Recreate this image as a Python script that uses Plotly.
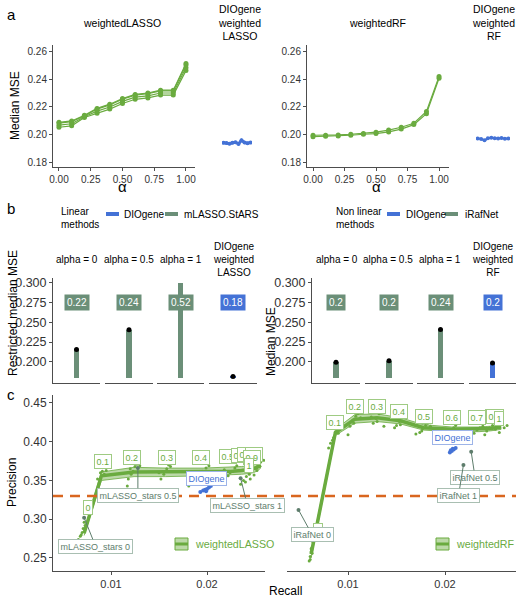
import plotly.graph_objects as go

W, H = 516, 598
FONT = "Liberation Sans"
GREEN = "#6AAB3F"
BAND = "rgba(106,171,63,0.45)"
BAR_GREEN = "#6B8F78"
BLUE = "#4472D6"
STARS = "#5E7D6C"
STARS_BORDER = "#A9BFB2"
ORANGE = "#D9661F"
AXC = "#4d4d4d"
TXT = "#333333"

# ---------------- panel a data ----------------
alpha = [0.0, 0.1, 0.2, 0.3, 0.4, 0.5, 0.6, 0.7, 0.8, 0.9, 1.0]
lasso_run1 = [0.2055, 0.2065, 0.2125, 0.2155, 0.2185, 0.2225, 0.2255, 0.2265, 0.2285, 0.2285, 0.2460]
lasso_run2 = [0.2070, 0.2080, 0.2130, 0.2170, 0.2200, 0.2240, 0.2270, 0.2280, 0.2300, 0.2300, 0.2480]
lasso_run3 = [0.2085, 0.2095, 0.2135, 0.2185, 0.2215, 0.2255, 0.2285, 0.2295, 0.2315, 0.2315, 0.2500]
lasso_run4 = [0.2090, 0.2100, 0.2140, 0.2190, 0.2220, 0.2260, 0.2290, 0.2300, 0.2320, 0.2320, 0.2510]
rf_run1 = [0.1988, 0.1990, 0.1993, 0.1998, 0.2005, 0.2010, 0.2022, 0.2042, 0.2074, 0.2152, 0.2405]
rf_run2 = [0.1998, 0.1998, 0.2000, 0.2005, 0.2010, 0.2020, 0.2035, 0.2055, 0.2084, 0.2168, 0.2418]
dio_runs = [1, 2, 3, 4, 5, 6, 7, 8, 9, 10]
dio_lasso_mse = [0.1945, 0.1942, 0.1938, 0.1944, 0.1948, 0.1936, 0.1962, 0.1946, 0.1941, 0.1946]
dio_rf_mse = [0.1975, 0.1972, 0.1962, 0.1976, 0.1980, 0.1977, 0.1974, 0.1978, 0.1973, 0.1975]

# ---------------- panel b data ----------------
lin_cats = ["alpha = 0", "alpha = 0.5", "alpha = 1", "DIOgene<br>weighted<br>LASSO"]
lin_vals = [0.2155, 0.2405, 0.52, 0.1815]
lin_method = ["mLASSO.StARS", "mLASSO.StARS", "mLASSO.StARS", "DIOgene"]
nl_cats = ["alpha = 0", "alpha = 0.5", "alpha = 1", "DIOgene<br>weighted<br>RF"]
nl_vals = [0.1995, 0.2015, 0.2410, 0.1985]
nl_method = ["iRafNet", "iRafNet", "iRafNet", "DIOgene"]
b_ylim = (0.18, 0.30)
b_yticks = [0.200, 0.225, 0.250, 0.275, 0.300]

# ---------------- panel c data ----------------
alpha_lab = ["0", "0.1", "0.2", "0.3", "0.4", "0.5", "0.6", "0.7", "0.8", "0.9", "1"]
lasso_rec = [0.0072, 0.0090, 0.0124, 0.0157, 0.0196, 0.0227, 0.0236, 0.0244, 0.0248, 0.0252, 0.0256]
lasso_prec = [0.282, 0.356, 0.361, 0.361, 0.361, 0.362, 0.363, 0.364, 0.365, 0.367, 0.370]
lasso_lo = [0.279, 0.350, 0.355, 0.355, 0.356, 0.357, 0.358, 0.359, 0.360, 0.362, 0.366]
lasso_hi = [0.285, 0.361, 0.367, 0.366, 0.366, 0.367, 0.368, 0.369, 0.370, 0.372, 0.374]
lasso_lab_rec = [0.0076, 0.0092, 0.0122, 0.0158, 0.0194, 0.0222, 0.0234, 0.0241, 0.0249, 0.0247, 0.0244]
lasso_lab_prec = [0.315, 0.374, 0.380, 0.380, 0.380, 0.381, 0.382, 0.383, 0.383, 0.380, 0.369]
lasso_pts_rec = [0.0066, 0.0068, 0.0070, 0.0071, 0.0073, 0.0069, 0.0072,
                 0.0086, 0.0089, 0.0091, 0.0088, 0.0093, 0.0095,
                 0.0118, 0.0121, 0.0125, 0.0127, 0.0123, 0.0117, 0.0130, 0.0120,
                 0.0152, 0.0155, 0.0158, 0.0160, 0.0162, 0.0150, 0.0163,
                 0.0190, 0.0195, 0.0199, 0.0202, 0.0197, 0.0181,
                 0.0222, 0.0226, 0.0229, 0.0231, 0.0224, 0.0218,
                 0.0235, 0.0238, 0.0241, 0.0244, 0.0247, 0.0250, 0.0253, 0.0256, 0.0259,
                 0.0240, 0.0245, 0.0249, 0.0252, 0.0255, 0.0262]
lasso_pts_prec = [0.274, 0.278, 0.283, 0.288, 0.292, 0.280, 0.296,
                  0.352, 0.360, 0.362, 0.348, 0.358, 0.363,
                  0.352, 0.358, 0.368, 0.371, 0.362, 0.343, 0.369, 0.365,
                  0.352, 0.358, 0.365, 0.370, 0.368, 0.360, 0.376,
                  0.358, 0.362, 0.366, 0.369, 0.356, 0.343,
                  0.356, 0.362, 0.366, 0.369, 0.360, 0.364,
                  0.345, 0.350, 0.355, 0.358, 0.362, 0.366, 0.370, 0.374, 0.376,
                  0.348, 0.352, 0.357, 0.363, 0.368, 0.377]

rf_rec = [0.0062, 0.0087, 0.0107, 0.0130, 0.0154, 0.0178, 0.0207, 0.0235, 0.0247, 0.0252, 0.0258]
rf_prec = [0.255, 0.412, 0.429, 0.431, 0.427, 0.418, 0.416, 0.416, 0.417, 0.418, 0.419]
rf_lo = [0.250, 0.408, 0.424, 0.426, 0.423, 0.415, 0.413, 0.413, 0.414, 0.415, 0.416]
rf_hi = [0.260, 0.416, 0.435, 0.436, 0.431, 0.422, 0.419, 0.419, 0.420, 0.421, 0.423]
rf_lab_rec = [0.0069, 0.0087, 0.0107, 0.0130, 0.0153, 0.0178, 0.0207, 0.0233, 0.0250, 0.0252, 0.0256]
rf_lab_prec = [0.285, 0.4245, 0.445, 0.446, 0.439, 0.432, 0.431, 0.431, 0.433, 0.432, 0.430]
rf_pts_rec = [0.0060, 0.0061, 0.0062, 0.0063, 0.0064, 0.0061, 0.0063, 0.0062,
              0.0082, 0.0085, 0.0087, 0.0089, 0.0092, 0.0084, 0.0090, 0.0080,
              0.0102, 0.0105, 0.0108, 0.0110, 0.0106, 0.0113, 0.0100,
              0.0126, 0.0129, 0.0132, 0.0134, 0.0130, 0.0124, 0.0137,
              0.0150, 0.0153, 0.0156, 0.0158, 0.0154, 0.0148,
              0.0174, 0.0177, 0.0180, 0.0182, 0.0176, 0.0170, 0.0185,
              0.0203, 0.0206, 0.0209, 0.0211, 0.0207, 0.0213,
              0.0230, 0.0233, 0.0236, 0.0239, 0.0243, 0.0246, 0.0249, 0.0252, 0.0255,
              0.0258, 0.0261, 0.0264, 0.0241, 0.0256]
rf_pts_prec = [0.246, 0.252, 0.258, 0.264, 0.270, 0.248, 0.256, 0.262,
               0.398, 0.405, 0.412, 0.417, 0.420, 0.402, 0.411, 0.392,
               0.420, 0.428, 0.433, 0.436, 0.424, 0.431, 0.409,
               0.424, 0.430, 0.436, 0.439, 0.426, 0.432, 0.420,
               0.421, 0.426, 0.431, 0.433, 0.422, 0.418,
               0.412, 0.417, 0.421, 0.424, 0.414, 0.410, 0.420,
               0.410, 0.414, 0.418, 0.421, 0.412, 0.409,
               0.411, 0.415, 0.418, 0.420, 0.414, 0.418, 0.421, 0.416, 0.420,
               0.423, 0.418, 0.421, 0.409, 0.412]

stars_names = ["mLASSO_stars 0", "mLASSO_stars 0.5", "mLASSO_stars 1"]
stars_rec = [0.0072, 0.0128, 0.0235]
stars_prec = [0.302, 0.366, 0.353]
stars_lab_rec = [0.0084, 0.0128, 0.0242]
stars_lab_prec = [0.265, 0.331, 0.318]
iraf_names = ["iRafNet 0", "iRafNet 0.5", "iRafNet 1"]
iraf_rec = [0.0049, 0.0227, 0.0219]
iraf_prec = [0.312, 0.387, 0.370]
iraf_lab_rec = [0.0063, 0.0231, 0.0214]
iraf_lab_prec = [0.280, 0.354, 0.331]
dio_c_lasso_rec = [0.0193, 0.0196, 0.0198, 0.0200, 0.0202, 0.0204, 0.0199]
dio_c_lasso_prec = [0.335, 0.337, 0.338, 0.339, 0.341, 0.343, 0.336]
dio_c_rf_rec = [0.0205, 0.0207, 0.0209, 0.0211, 0.0208, 0.0206]
dio_c_rf_prec = [0.386, 0.388, 0.390, 0.392, 0.391, 0.389]
dio_c_lab_rec = [0.0199, 0.0208]
dio_c_lab_prec = [0.352, 0.405]
baseline_prec = 0.33


def dx(a, b):
    return [a / W, b / W]


def dy(top, bottom):
    return [1 - bottom / H, 1 - top / H]


fig = go.Figure()
annotations = []
shapes = []

# ---------- panel a ----------
for run in [lasso_run1, lasso_run2, lasso_run3, lasso_run4]:
    fig.add_trace(go.Scatter(x=alpha, y=run, mode="lines+markers", xaxis="x", yaxis="y",
                             line=dict(color=GREEN, width=1.2), marker=dict(color=GREEN, size=5),
                             showlegend=False))
for run in [rf_run1, rf_run2]:
    fig.add_trace(go.Scatter(x=alpha, y=run, mode="lines+markers", xaxis="x3", yaxis="y3",
                             line=dict(color=GREEN, width=1.2), marker=dict(color=GREEN, size=5),
                             showlegend=False))
fig.add_trace(go.Scatter(x=dio_runs, y=dio_lasso_mse, mode="lines+markers", xaxis="x2", yaxis="y",
                         line=dict(color=BLUE, width=3), marker=dict(color=BLUE, size=4), showlegend=False))
fig.add_trace(go.Scatter(x=dio_runs, y=dio_rf_mse, mode="lines+markers", xaxis="x4", yaxis="y3",
                         line=dict(color=BLUE, width=2), marker=dict(color=BLUE, size=4), showlegend=False))


# ---------- panel b ----------
def fmt(v):
    return f"{round(v, 2):g}"


def b_panel(cats, vals, methods, xaxes, yax):
    for cat, v, m, xa in zip(cats, vals, methods, xaxes):
        col = BLUE if m == "DIOgene" else BAR_GREEN
        top = min(v, b_ylim[1])
        fig.add_trace(go.Bar(x=[0], y=[top - b_ylim[0]], base=[b_ylim[0]], width=0.11,
                             marker=dict(color=col, line=dict(width=0)), xaxis=xa, yaxis=yax,
                             name=m, showlegend=False))
        if v <= b_ylim[1]:
            fig.add_trace(go.Scatter(x=[0], y=[v], mode="markers", marker=dict(color="black", size=5),
                                     xaxis=xa, yaxis=yax, showlegend=False))
        annotations.append(dict(x=0, y=0.275, xref=xa, yref=yax, text=fmt(v), showarrow=False,
                                xanchor="center", yanchor="middle",
                                font=dict(color="white", size=10, family=FONT), bgcolor=col,
                                borderpad=2))


b_panel(lin_cats, lin_vals, lin_method, ["x5", "x6", "x7", "x8"], "y5")
b_panel(nl_cats, nl_vals, nl_method, ["x9", "x10", "x11", "x12"], "y9")


# ---------- panel c ----------
def c_panel(rec, prec, lo, hi, pts_r, pts_p, xa):
    fig.add_trace(go.Scatter(x=rec, y=lo, mode="lines", line=dict(color=GREEN, width=0.8),
                             xaxis=xa, yaxis="y13", showlegend=False))
    fig.add_trace(go.Scatter(x=rec, y=hi, mode="lines", line=dict(color=GREEN, width=0.8),
                             fill="tonexty", fillcolor=BAND, xaxis=xa, yaxis="y13", showlegend=False))
    fig.add_trace(go.Scatter(x=rec, y=prec, mode="lines", line=dict(color=GREEN, width=3.5),
                             xaxis=xa, yaxis="y13", showlegend=False))
    fig.add_trace(go.Scatter(x=pts_r, y=pts_p, mode="markers", marker=dict(color=GREEN, size=3),
                             xaxis=xa, yaxis="y13", showlegend=False))


c_panel(lasso_rec, lasso_prec, lasso_lo, lasso_hi, lasso_pts_rec, lasso_pts_prec, "x13")
c_panel(rf_rec, rf_prec, rf_lo, rf_hi, rf_pts_rec, rf_pts_prec, "x14")

fig.add_trace(go.Scatter(x=dio_c_lasso_rec, y=dio_c_lasso_prec, mode="markers",
                         marker=dict(color=BLUE, size=4), xaxis="x13", yaxis="y13", showlegend=False))
fig.add_trace(go.Scatter(x=dio_c_rf_rec, y=dio_c_rf_prec, mode="markers",
                         marker=dict(color=BLUE, size=4), xaxis="x14", yaxis="y13", showlegend=False))
fig.add_trace(go.Scatter(x=stars_rec, y=stars_prec, mode="markers", marker=dict(color=STARS, size=4),
                         xaxis="x13", yaxis="y13", showlegend=False))
fig.add_trace(go.Scatter(x=iraf_rec, y=iraf_prec, mode="markers", marker=dict(color=STARS, size=4),
                         xaxis="x14", yaxis="y13", showlegend=False))

# text labels (as a text trace so they share the axes' scales)
def label_trace(xs, ys, texts, xa, color, border):
    for t, r, p in zip(texts, xs, ys):
        annotations.append(dict(x=r, y=p, xref=xa, yref="y13", text=t, showarrow=False,
                                xanchor="center", yanchor="middle",
                                font=dict(color=color, size=9, family=FONT), bgcolor="white",
                                bordercolor=border, borderwidth=1, borderpad=1.5))


label_trace(lasso_lab_rec, lasso_lab_prec, alpha_lab, "x13", GREEN, "#9FCB83")
label_trace(rf_lab_rec, rf_lab_prec, alpha_lab, "x14", GREEN, "#9FCB83")
for names, rr, pp, lr, lp, xa in [(stars_names, stars_rec, stars_prec, stars_lab_rec, stars_lab_prec, "x13"),
                                  (iraf_names, iraf_rec, iraf_prec, iraf_lab_rec, iraf_lab_prec, "x14")]:
    for n, r, p, a, b in zip(names, rr, pp, lr, lp):
        annotations.append(dict(x=r, y=p, xref=xa, yref="y13", ax=a, ay=b, axref=xa, ayref="y13",
                                text=n, showarrow=True, arrowhead=0, arrowwidth=1, arrowcolor=STARS,
                                standoff=0, startstandoff=0, xanchor="center", yanchor="middle",
                                font=dict(color=STARS, size=9, family=FONT), bgcolor="white",
                                bordercolor=STARS_BORDER, borderwidth=1, borderpad=1.5))
label_trace(dio_c_lab_rec[:1], dio_c_lab_prec[:1], ["DIOgene"], "x13", BLUE, "#9DB4E8")
label_trace(dio_c_lab_rec[1:], dio_c_lab_prec[1:], ["DIOgene"], "x14", BLUE, "#9DB4E8")


# ---------- text annotations (titles, strips, letters, legends) ----------
def txt(x, y, t, size=10.5, color="black", angle=0, xanchor="center", yanchor="middle", align="center"):
    annotations.append(dict(x=x / W, y=1 - y / H, xref="paper", yref="paper", text=t, showarrow=False,
                            font=dict(size=size, color=color, family=FONT), textangle=angle,
                            xanchor=xanchor, yanchor=yanchor, align=align))


def rect(x0, y0, x1, y1, fill, line=None, lw=0):
    shapes.append(dict(type="rect", xref="paper", yref="paper", x0=x0 / W, x1=x1 / W,
                       y0=1 - y1 / H, y1=1 - y0 / H, fillcolor=fill,
                       line=dict(color=line or fill, width=lw)))


txt(11, 15, "a", 15)
txt(11, 208, "b", 15)
txt(11, 394, "c", 15)
txt(122, 23, "weightedLASSO", 10.5)
txt(239, 23, "DIOgene<br>weighted<br>LASSO", 10.5)
txt(377, 23, "weightedRF", 10.5)
txt(493, 23, "DIOgene<br>weighted<br>RF", 10.5)
txt(15, 106, "Median MSE", 12, angle=-90)
txt(122, 186, "α", 15)
txt(376, 186, "α", 15)
for cx, cat in zip([77, 129, 181, 233], lin_cats):
    txt(cx, 260, cat, 10)
for cx, cat in zip([337, 388, 440, 492], nl_cats):
    txt(cx, 260, cat, 10)
txt(13, 313, "Restricted median MSE", 12, angle=-90)
txt(271, 342, "Median MSE", 12, angle=-90)
txt(12, 483, "Precision", 12, angle=-90)
txt(285, 591, "Recall", 12)

# legends of panel b
txt(59, 218, "Linear<br>methods", 10, xanchor="left", align="left")
rect(106, 212, 119, 216, BLUE)
txt(122, 214, "DIOgene", 10, xanchor="left")
rect(165, 212, 178, 216, BAR_GREEN)
txt(182, 214, "mLASSO.StARS", 10, xanchor="left")
txt(334, 218, "Non linear<br>methods", 10, xanchor="left", align="left")
rect(387, 212, 400, 216, BLUE)
txt(404, 214, "DIOgene", 10, xanchor="left")
rect(445, 212, 458, 216, BAR_GREEN)
txt(463, 214, "iRafNet", 10, xanchor="left")

# legends of panel c
for kx, name in [(175, "weightedLASSO"), (436, "weightedRF")]:
    rect(kx, 538, kx + 13, 550, BAND, GREEN, 1)
    shapes.append(dict(type="line", xref="paper", yref="paper", x0=kx / W, x1=(kx + 13) / W,
                       y0=1 - 544 / H, y1=1 - 544 / H, line=dict(color=GREEN, width=3)))
    txt(kx + 18, 544, name, 10.7, color=GREEN, xanchor="left")


# ---------- axes ----------
def xa_common(**kw):
    d = dict(showgrid=False, zeroline=False, showline=True, linecolor=AXC, linewidth=1,
             ticks="outside", ticklen=3, tickcolor=AXC, tickfont=dict(size=10, color=TXT, family=FONT))
    d.update(kw)
    return d


hidden = dict(visible=False, showgrid=False, zeroline=False)
a_y = dy(45, 167)
a_yrange = [0.1771, 0.2643]
a_ticks = [0.0, 0.25, 0.5, 0.75, 1.0]
layout = dict(
    xaxis=xa_common(domain=dx(53, 195), range=[-0.047, 1.071], anchor="y", tickvals=a_ticks, tickformat=".2f"),
    yaxis=xa_common(domain=a_y, range=a_yrange, anchor="x", tickvals=[0.18, 0.20, 0.22, 0.24, 0.26],
                    tickformat=".2f"),
    xaxis2=dict(hidden, domain=dx(222, 252), range=[0.5, 10.5], anchor="y"),
    xaxis3=xa_common(domain=dx(307, 449), range=[-0.0476, 1.079], anchor="y3", tickvals=a_ticks,
                     tickformat=".2f"),
    yaxis3=xa_common(domain=a_y, range=a_yrange, anchor="x3", tickvals=[0.18, 0.20, 0.22, 0.24, 0.26],
                     tickformat=".2f"),
    xaxis4=dict(hidden, domain=dx(476, 510), range=[0.5, 10.5], anchor="y3"),
)
b_y = dy(278, 383)
b_yrange = [0.1733, 0.3059]
for name, (a, b) in zip(["xaxis5", "xaxis6", "xaxis7", "xaxis8"], [(53, 100), (105, 153), (157, 204), (209, 257)]):
    layout[name] = dict(domain=dx(a, b), range=[-0.5, 0.5], anchor="y5", showline=True, linecolor=AXC,
                        linewidth=1, showticklabels=False, ticks="", showgrid=False, zeroline=False)
for name, (a, b) in zip(["xaxis9", "xaxis10", "xaxis11", "xaxis12"], [(312, 360), (365, 413), (417, 464), (469, 516)]):
    layout[name] = dict(domain=dx(a, b), range=[-0.5, 0.5], anchor="y9", showline=True, linecolor=AXC,
                        linewidth=1, showticklabels=False, ticks="", showgrid=False, zeroline=False)
layout["yaxis5"] = xa_common(domain=b_y, range=b_yrange, anchor="x5", tickvals=b_yticks, tickformat=".3f",
                             tickfont=dict(size=12.5, color=TXT, family=FONT))
layout["yaxis9"] = xa_common(domain=b_y, range=b_yrange, anchor="x9", tickvals=b_yticks, tickformat=".3f",
                             tickfont=dict(size=12.5, color=TXT, family=FONT))
c_y = dy(395, 571)
layout["yaxis13"] = xa_common(domain=c_y, range=[0.2332, 0.4603], anchor="x13",
                              tickvals=[0.25, 0.30, 0.35, 0.40, 0.45], tickformat=".2f",
                              tickfont=dict(size=12, color=TXT, family=FONT))
layout["xaxis13"] = xa_common(domain=dx(53, 265), range=[0.003958, 0.02604], anchor="y13",
                              tickvals=[0.01, 0.02], tickformat=".2f", tickfont=dict(size=11, color=TXT, family=FONT))
layout["xaxis14"] = xa_common(domain=dx(287, 516), range=[0.003711, 0.02732], anchor="y13",
                              tickvals=[0.01, 0.02], tickformat=".2f", tickfont=dict(size=11, color=TXT, family=FONT))

shapes.append(dict(type="line", xref="paper", yref="y13", x0=53 / W, x1=1, y0=baseline_prec, y1=baseline_prec,
                   line=dict(color=ORANGE, width=2.5, dash="10px,7px"), layer="above"))

fig.update_layout(**layout)
fig.update_layout(
    width=W, height=H, margin=dict(l=0, r=0, t=0, b=0, autoexpand=False),
    paper_bgcolor="white", plot_bgcolor="white", showlegend=False,
    font=dict(family=FONT, size=10, color="black"),
    annotations=annotations, shapes=shapes, bargap=0,
)
fig.write_html("out.html")
